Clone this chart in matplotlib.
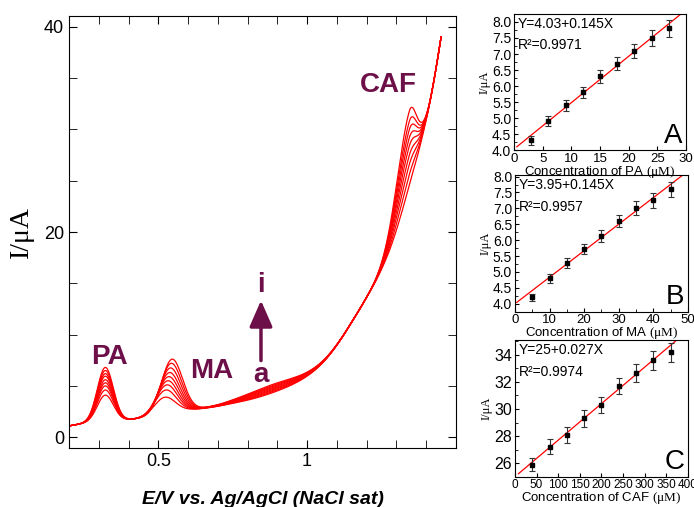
import numpy as np
import matplotlib
matplotlib.use("Agg")
import matplotlib.pyplot as plt

plt.rcParams['font.family'] = ['Liberation Sans', 'DejaVu Sans']
plt.rcParams['mathtext.fontset'] = 'custom'
plt.rcParams['mathtext.rm'] = 'Liberation Serif'

# --- voltammograms (a..i), values ---
base_E = [0.20, 0.25, 0.30, 0.35, 0.40, 0.45, 0.50, 0.55, 0.60, 0.65, 0.70, 0.75, 0.80, 0.85,
          0.90, 0.95, 1.00, 1.05, 1.10, 1.15, 1.20, 1.25, 1.30, 1.35, 1.40, 1.43, 1.45]
base_I = [1.1, 1.35, 1.5, 1.6, 1.7, 1.9, 2.15, 2.4, 2.65, 2.8, 3.0, 3.3, 3.6, 4.0,
          4.5, 5.1, 5.9, 7.1, 8.9, 11.2, 13.6, 16.2, 19.5, 24.3, 30.8, 35.0, 39.0]
pa_peak = [4.1, 4.6, 5.0, 5.3, 5.6, 5.95, 6.2, 6.5, 6.8]
ma_peak = [3.9, 4.6, 5.1, 5.5, 5.9, 6.3, 6.75, 7.2, 7.6]
ma_pos = [0.522, 0.525, 0.528, 0.531, 0.534, 0.537, 0.540, 0.543, 0.546]
mid_rise = [0.0, 0.1, 0.2, 0.3, 0.4, 0.5, 0.6, 0.7, 0.8]
caf_amp = [0.8, 1.8, 2.8, 3.7, 4.6, 5.4, 6.2, 7.0, 8.0]

# --- calibration plots ---
pa_conc = [3, 6, 9, 12, 15, 18, 21, 24, 27]
pa_curr = [4.3, 4.9, 5.4, 5.8, 6.3, 6.7, 7.1, 7.5, 7.8]
pa_err = [0.15, 0.15, 0.17, 0.18, 0.2, 0.2, 0.22, 0.24, 0.26]
ma_conc = [5, 10, 15, 20, 25, 30, 35, 40, 45]
ma_curr = [4.2, 4.8, 5.28, 5.72, 6.12, 6.6, 7.0, 7.25, 7.6]
ma_err = [0.12, 0.15, 0.15, 0.17, 0.19, 0.2, 0.22, 0.23, 0.23]
caf_conc = [40, 80, 120, 160, 200, 240, 280, 320, 360]
caf_curr = [25.9, 27.2, 28.1, 29.3, 30.3, 31.7, 32.65, 33.6, 34.2]
caf_err = [0.5, 0.55, 0.6, 0.6, 0.6, 0.6, 0.65, 0.7, 0.7]

eq_text = ['Y=4.03+0.145X', 'Y=3.95+0.145X', 'Y=25+0.027X']
r2_text = ['R²=0.9971', 'R²=0.9957', 'R²=0.9974']
# red lines as drawn in the picture (intercept, slope)
line_b0 = [4.03, 4.0, 25.0]
line_b1 = [0.145, 0.0835, 0.027]

purple = '#6d0f48'

fig = plt.figure(figsize=(6.94, 5.07), dpi=100)
ax = fig.add_axes([0.0994, 0.1164, 0.5576, 0.852])

E = np.linspace(0.2, 1.45, 700)
base = np.interp(E, base_E, base_I)
pad = 15
bp = np.pad(base, pad, mode='reflect', reflect_type='odd')
base = np.convolve(bp, np.ones(2 * pad + 1) / (2 * pad + 1), mode='same')[pad:-pad]


def gauss(x, c, s):
    return np.exp(-(x - c) ** 2 / (2 * s ** 2))


pa_c = 0.322
caf_shape = np.where(E < 1.342, gauss(E, 1.342, 0.042), gauss(E, 1.342, 0.025))
for k in range(len(pa_peak)):
    b_pa = np.interp(pa_c, E, base)
    b_ma = np.interp(ma_pos[k], E, base)
    cur = (base + (pa_peak[k] - b_pa) * gauss(E, pa_c, 0.027)
           + (ma_peak[k] - b_ma) * gauss(E, ma_pos[k], 0.035)
           + mid_rise[k] * gauss(E, 0.88, 0.1)
           + caf_amp[k] * caf_shape)
    ax.plot(E, cur, color='red', lw=0.9)

ax.set_xlim(0.2, 1.5)
ax.set_ylim(-1.05, 41.05)
ax.set_xticks([0.5, 1])
ax.set_xticklabels(['0.5', '1'])
ax.set_xticks(np.arange(0.3, 1.45, 0.1), minor=True)
ax.set_yticks([0, 20, 40])
ax.set_yticks(np.arange(0, 41, 5), minor=True)
ax.tick_params(which='both', direction='in', top=True, right=True, labelsize=13)
ax.tick_params(which='both', length=6)
ax.set_xlabel('E/V vs. Ag/AgCl (NaCl sat)', fontsize=14, fontweight='bold', style='italic')
ax.xaxis.set_label_coords(0.5, -0.1)
ax.set_ylabel('I/μA', fontsize=20, family='Liberation Serif')
ax.yaxis.set_label_coords(-0.09, 0.5)

tk = dict(color=purple, fontsize=20, fontweight='bold', ha='center', va='center')
ax.text(0.335, 7.8, 'PA', **tk)
ax.text(0.679, 6.5, 'MA', **tk)
ax.text(1.274, 34.3, 'CAF', **tk)
ax.text(0.845, 14.8, 'i', **tk)
ax.text(0.845, 6.05, 'a', **tk)
ax.annotate('', xy=(0.845, 13.6), xytext=(0.845, 7.2),
            arrowprops=dict(arrowstyle='-|>,head_length=0.8,head_width=0.35',
                            mutation_scale=20, color=purple, lw=2.5))

# --- right panels ---
panels = [
    ([0.7406, 0.7041, 0.248, 0.2683], pa_conc, pa_curr, pa_err, (0, 30), (4.0, 8.25),
     np.arange(0, 31, 5), None, np.arange(4.0, 8.01, 0.5), 'PA', 'A', (0.5, 30)),
    ([0.742, 0.3852, 0.2494, 0.2696], ma_conc, ma_curr, ma_err, (0, 50), (3.75, 8.05),
     np.arange(0, 51, 10), np.arange(5, 50, 10), np.arange(4.0, 8.01, 0.5), 'MA', 'B', (0.5, 50)),
    ([0.742, 0.0598, 0.2494, 0.2696], caf_conc, caf_curr, caf_err, (0, 400), (25, 35.1),
     np.arange(0, 401, 50), None, np.arange(26, 35, 2), 'CAF', 'C', (8, 400)),
]

for i, (rect, xc, yc, ye, xl, yl, xt, xmt, yt, name, tag, fx) in enumerate(panels):
    a = fig.add_axes(rect)
    a.set_facecolor('none')
    xx = np.array(fx, dtype=float)
    a.plot(xx, line_b0[i] + line_b1[i] * xx, color='red', lw=0.9)
    a.errorbar(xc, yc, yerr=ye, fmt='s', color='black', ms=2.5, elinewidth=0.8,
               capsize=2, capthick=0.8, ecolor='#333333')
    a.set_xlim(*xl)
    a.set_ylim(*yl)
    a.set_xticks(xt)
    if xmt is not None:
        a.set_xticks(xmt, minor=True)
    a.set_yticks(yt)
    if i < 2:
        a.set_yticklabels(['%.1f' % v for v in yt])
        a.set_yticks(np.arange(4.0, 8.01, 0.25), minor=True)
    else:
        a.set_yticks(np.arange(25, 35.1, 1), minor=True)
    a.tick_params(which='both', direction='in', pad=2)
    a.tick_params(which='major', length=3)
    a.tick_params(which='minor', length=2)
    a.tick_params(axis='x', labelsize=8.5 if i == 2 else 9.5)
    a.tick_params(axis='y', labelsize=11.5 if i == 2 else 10)
    a.set_xlabel('Concentration of %s $\\mathrm{(\\mu M)}$' % name, fontsize=9.5, va='top')
    a.xaxis.set_label_coords(0.5, -0.1)
    a.set_ylabel('I/μA', fontsize=9, family='Liberation Serif', labelpad=1)
    a.text(0.02, 0.975, eq_text[i], transform=a.transAxes, fontsize=10, va='top')
    a.text(0.02, 0.82, r2_text[i], transform=a.transAxes, fontsize=10, va='top')
    a.text(0.98, 0.01, tag, transform=a.transAxes, fontsize=20, ha='right', va='bottom')

fig.savefig('out.png', dpi=100)
